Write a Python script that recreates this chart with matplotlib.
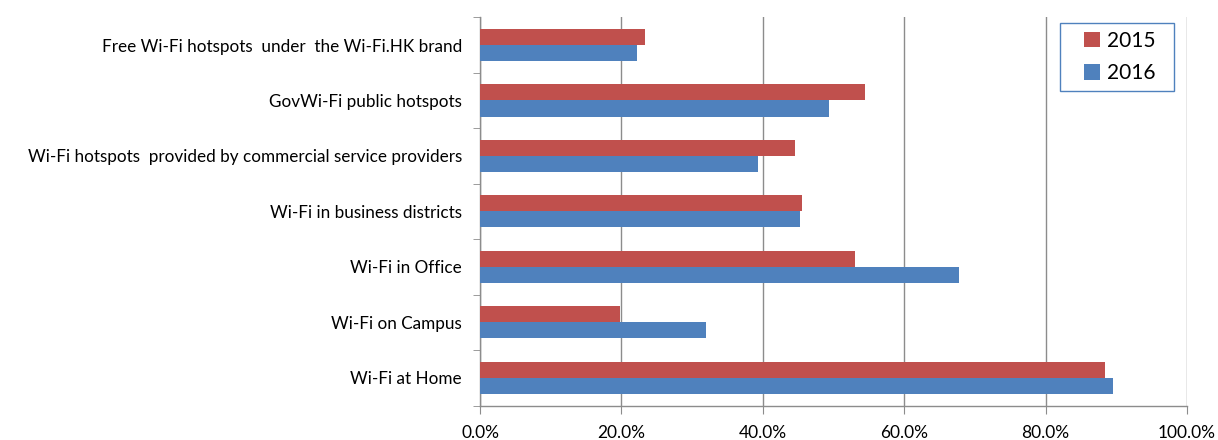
import matplotlib
matplotlib.use("Agg")
import matplotlib.pyplot as plt
import numpy as np
from matplotlib.ticker import FuncFormatter
from matplotlib.patches import Rectangle

categories = [
    "Free Wi-Fi hotspots  under  the Wi-Fi.HK brand",
    "GovWi-Fi public hotspots",
    "Wi-Fi hotspots  provided by commercial service providers",
    "Wi-Fi in business districts",
    "Wi-Fi in Office",
    "Wi-Fi on Campus",
    "Wi-Fi at Home",
]
values_2015 = [23.4, 54.4, 44.5, 45.5, 53.1, 19.8, 88.4]
values_2016 = [22.2, 49.3, 39.3, 45.3, 67.8, 31.9, 89.6]
series_names = ["2015", "2016"]
x_ticks = [0, 20, 40, 60, 80, 100]

plt.rcParams['font.family'] = ['Lato', 'DejaVu Sans']

fig = plt.figure(figsize=(12.18, 4.4), dpi=100)
ax = fig.add_axes([480/1218, 1-405.5/440, 707/1218, 388.2/440])

n = len(categories)
pos = np.arange(n)[::-1]  # top category at top
h = 0.29
red = "#C0504D"
blue = "#4F81BD"
b1 = ax.barh(pos + h/2, values_2015, height=h, color=red, label=series_names[0], zorder=3)
b2 = ax.barh(pos - h/2, values_2016, height=h, color=blue, label=series_names[1], zorder=3)

ax.set_xlim(0, 100)
ax.set_ylim(-0.5, n - 0.5)
ax.set_xticks(x_ticks)
ax.xaxis.set_major_formatter(FuncFormatter(lambda v, p: f"{v:.1f}%"))
ax.set_yticks(pos)
ax.set_yticklabels(categories)
ax.set_yticks(np.arange(-0.5, n, 1.0), minor=True)

ax.grid(axis='x', color="#8c8c8c", linewidth=1.0, zorder=0)
for s in ['top', 'right']:
    ax.spines[s].set_visible(False)
for s in ['left', 'bottom']:
    ax.spines[s].set_color("#8c8c8c")
    ax.spines[s].set_linewidth(1.0)

ax.tick_params(axis='y', which='major', length=0, pad=13, labelsize=12.3, labelcolor="#000000")
ax.tick_params(axis='y', which='minor', length=5, color="#8c8c8c", direction='out')
ax.tick_params(axis='x', which='major', length=6, color="#8c8c8c", direction='out', pad=8, labelsize=12.5)

# legend frame
lx0, ly0, lw, lh = 0.820, 0.810, 0.1616, 0.176
frame = Rectangle((lx0, ly0), lw, lh, transform=ax.transAxes, facecolor="white",
                  edgecolor=blue, linewidth=1.0, zorder=4, clip_on=False)
ax.add_patch(frame)
leg = ax.legend(handles=[b1, b2], loc='center', bbox_to_anchor=(lx0 + lw/2 + 0.004, ly0 + lh/2),
                borderaxespad=0, fontsize=15, frameon=False,
                handlelength=0.75, handleheight=0.75, handletextpad=0.35, labelspacing=0.6,
                borderpad=0.0)
leg.set_zorder(5)

fig.savefig("out.png", dpi=100)
